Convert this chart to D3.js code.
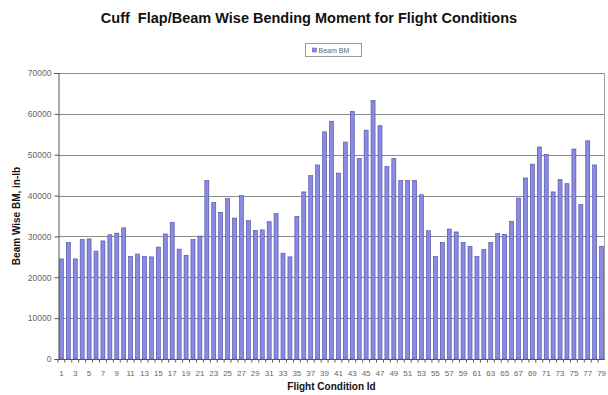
<!DOCTYPE html>
<html>
<head>
<meta charset="utf-8">
<script src="https://cdn.jsdelivr.net/npm/d3@7"></script>
<style>
  body { margin: 0; background: #fff; }
  svg { font-family: "Liberation Sans", Arial, sans-serif; }
</style>
</head>
<body>
<div id="chart"></div>
<script>
// Beam wise bending moment per flight condition (in-lb)
const conditionIds = d3.range(1, 80);
const beamBM = [
  24500, 28500, 24500, 29200, 29400, 26400, 28900, 30400, 30800, 32100,
  25100, 25700, 25100, 25000, 27400, 30600, 33400, 26900, 25400, 29200,
  30100, 43700, 38300, 35900, 39300, 34500, 40000, 33900, 31500, 31600,
  33600, 35600, 25900, 25000, 34900, 40900, 44900, 47500, 55600, 58200,
  45500, 53100, 60600, 49100, 56000, 63300, 57100, 47100, 49100, 43700,
  43700, 43700, 40200, 31400, 25100, 28500, 31800, 31100, 28500, 27600,
  25100, 26800, 28500, 30700, 30500, 33700, 39400, 44300, 47700, 51900,
  50100, 40900, 43900, 42900, 51400, 37800, 53400, 47500, 27600
];
const yTicks = [0, 10000, 20000, 30000, 40000, 50000, 60000, 70000];

const width = 608, height = 395;
const margin = { top: 73, right: 3, bottom: 36, left: 58 };
const barFill = "#8a8ae0", barStroke = "#4a4aa8";

const svg = d3.select("#chart").append("svg")
  .attr("width", width)
  .attr("height", height);

const x = d3.scaleBand()
  .domain(conditionIds)
  .range([margin.left, width - margin.right])
  .paddingInner(0.42)
  .paddingOuter(0.2);

const y = d3.scaleLinear()
  .domain([0, 70000])
  .range([height - margin.bottom, margin.top]);

// gridlines
svg.append("g")
  .selectAll("line")
  .data(yTicks.filter(d => d > 0))
  .join("line")
  .attr("x1", margin.left)
  .attr("x2", width - margin.right)
  .attr("y1", d => Math.round(y(d)) + 0.5)
  .attr("y2", d => Math.round(y(d)) + 0.5)
  .attr("stroke", "#8c8c8c");

// right border of plot
svg.append("line")
  .attr("x1", width - margin.right - 0.5)
  .attr("x2", width - margin.right - 0.5)
  .attr("y1", y(70000))
  .attr("y2", y(0))
  .attr("stroke", "#a0a0a0");

// bars
svg.append("g")
  .selectAll("rect")
  .data(conditionIds)
  .join("rect")
  .attr("x", d => x(d))
  .attr("width", x.bandwidth())
  .attr("y", (d, i) => y(beamBM[i]))
  .attr("height", (d, i) => y(0) - y(beamBM[i]))
  .attr("fill", barFill)
  .attr("stroke", barStroke)
  .attr("stroke-width", 0.6);

// y axis
const yAxis = svg.append("g")
  .attr("transform", `translate(${margin.left + 0.5},0)`)
  .call(d3.axisLeft(y).tickValues(yTicks).tickSize(4).tickPadding(3).tickFormat(d3.format("d")));
yAxis.select(".domain").attr("stroke", "#555");
yAxis.selectAll(".tick line").attr("stroke", "#555");
yAxis.selectAll(".tick text")
  .attr("font-size", 8.5)
  .attr("fill", "#666")
  .attr("font-family", "Liberation Sans, Arial, sans-serif");

// x axis
const step = x.step();
const xAxis = svg.append("g")
  .attr("transform", `translate(0,${Math.round(y(0)) + 0.5})`);
xAxis.append("line")
  .attr("x1", margin.left)
  .attr("x2", width - margin.right)
  .attr("stroke", "#555");
xAxis.selectAll(".xt")
  .data(conditionIds)
  .join("line")
  .attr("class", "xt")
  .attr("x1", d => x(d) - step * x.paddingInner() / 2)
  .attr("x2", d => x(d) - step * x.paddingInner() / 2)
  .attr("y1", 0)
  .attr("y2", 3)
  .attr("stroke", "#555");
xAxis.selectAll(".xl")
  .data(conditionIds.filter(d => d % 2 === 1))
  .join("text")
  .attr("class", "xl")
  .attr("x", d => x(d) + x.bandwidth() / 2)
  .attr("y", 16)
  .attr("text-anchor", "middle")
  .attr("font-size", 8)
  .attr("fill", "#666")
  .text(d => d);

// titles
svg.append("text")
  .attr("x", 309)
  .attr("y", 23)
  .attr("text-anchor", "middle")
  .attr("font-size", 14.5)
  .attr("font-weight", "bold")
  .attr("fill", "#111")
  .style("white-space", "pre")
  .text("Cuff  Flap/Beam Wise Bending Moment for Flight Conditions");

svg.append("text")
  .attr("x", (margin.left + width - margin.right) / 2)
  .attr("y", 390)
  .attr("text-anchor", "middle")
  .attr("font-size", 10)
  .attr("font-weight", "bold")
  .attr("fill", "#111")
  .text("Flight Condition Id");

svg.append("text")
  .attr("transform", `translate(20,${(margin.top + height - margin.bottom) / 2}) rotate(-90)`)
  .attr("text-anchor", "middle")
  .attr("font-size", 10)
  .attr("font-weight", "bold")
  .attr("fill", "#111")
  .text("Beam Wise BM, in-lb");

// legend
const legend = svg.append("g").attr("transform", "translate(305.5,43.5)");
legend.append("rect")
  .attr("width", 56)
  .attr("height", 13)
  .attr("fill", "#fff")
  .attr("stroke", "#999");
legend.append("rect")
  .attr("x", 7)
  .attr("y", 4.5)
  .attr("width", 4)
  .attr("height", 4)
  .attr("fill", barFill)
  .attr("stroke", barStroke)
  .attr("stroke-width", 0.5);
legend.append("text")
  .attr("x", 13)
  .attr("y", 9.5)
  .attr("font-size", 7)
  .attr("fill", "#666")
  .text("Beam BM");
</script>
</body>
</html>
